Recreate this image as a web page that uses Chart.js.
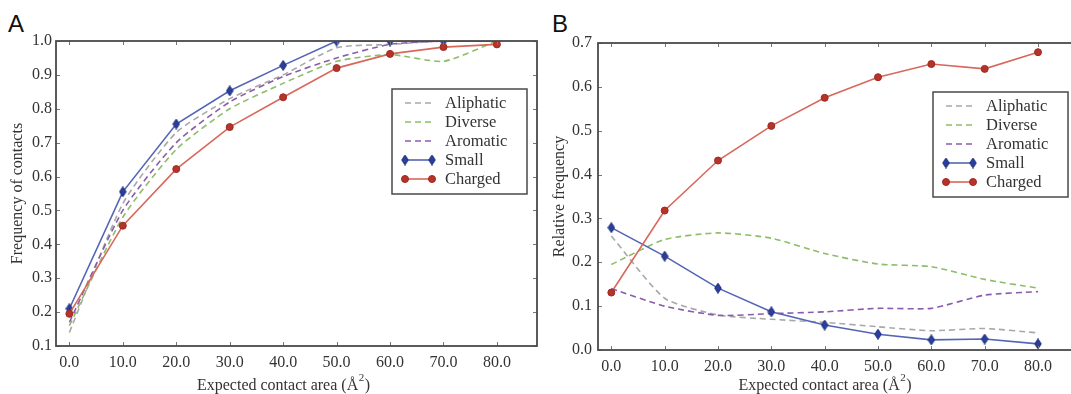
<!DOCTYPE html>
<html><head><meta charset="utf-8">
<script src="https://cdn.jsdelivr.net/npm/chart.js@4.4.1/dist/chart.umd.min.js"></script>
<style>
html,body{margin:0;padding:0;background:#fff;overflow:hidden;width:1071px;height:394px;position:relative;}
#ca{position:absolute;left:0;top:0;}
#cb{position:absolute;left:545px;top:0;}
.lab{position:absolute;font-family:"Liberation Sans",Arial,sans-serif;font-size:24px;line-height:24px;color:#111;}
</style></head><body>
<div class="lab" style="left:8px;top:12px">A</div>
<div class="lab" style="left:552px;top:12px">B</div>
<canvas id="ca" width="545" height="394"></canvas>
<canvas id="cb" width="541" height="394"></canvas>
<script>
// ---- data ----
const categories = [0, 10, 20, 30, 40, 50, 60, 70, 80];
const seriesNames = ["Aliphatic", "Diverse", "Aromatic", "Small", "Charged"];

const aliphaticA = [0.14, 0.52, 0.73, 0.83, 0.90, 0.98, 0.99, 1.0, 1.0];
const diverseA   = [0.16, 0.48, 0.68, 0.80, 0.875, 0.94, 0.96, 0.94, 1.0];
const aromaticA  = [0.17, 0.50, 0.70, 0.82, 0.895, 0.95, 0.99, 1.0, 1.0];
const smallA     = [0.21, 0.555, 0.755, 0.853, 0.928, 1.0, 1.0, 1.0, 1.0];
const chargedA   = [0.195, 0.455, 0.622, 0.746, 0.834, 0.92, 0.962, 0.982, 0.99];

const aliphaticB = [0.26, 0.118, 0.08, 0.07, 0.063, 0.053, 0.044, 0.049, 0.039];
const diverseB   = [0.195, 0.252, 0.267, 0.255, 0.22, 0.196, 0.19, 0.161, 0.141];
const aromaticB  = [0.14, 0.10, 0.079, 0.083, 0.087, 0.095, 0.095, 0.125, 0.133];
const smallB     = [0.279, 0.214, 0.141, 0.087, 0.057, 0.036, 0.023, 0.025, 0.014];
const chargedB   = [0.131, 0.318, 0.432, 0.511, 0.575, 0.622, 0.652, 0.641, 0.679];

const xTicks  = [0, 10, 20, 30, 40, 50, 60, 70, 80];
const yTicksA = [0.1, 0.2, 0.3, 0.4, 0.5, 0.6, 0.7, 0.8, 0.9, 1.0];
const yTicksB = [0.0, 0.1, 0.2, 0.3, 0.4, 0.5, 0.6, 0.7];

const yTitleA = "Frequency of contacts";
const yTitleB = "Relative frequency";
const xTitleMain = "Expected contact area (\u00C5";
const xTitleSup = "2";
const xTitleEnd = ")";

// ---- styles ----
const SERIF = '"Liberation Serif","Times New Roman",serif';
const INK = '#333333';

function thinDiamond(color, edge) {
  const c = document.createElement('canvas');
  c.width = 8; c.height = 11;
  const g = c.getContext('2d');
  g.beginPath();
  g.moveTo(4, 0.5); g.lineTo(7.3, 5.5); g.lineTo(4, 10.5); g.lineTo(0.7, 5.5); g.closePath();
  g.fillStyle = color; g.fill();
  g.strokeStyle = edge; g.lineWidth = 1; g.stroke();
  return c;
}
const diamondImg = thinDiamond('#2a3f9c', '#1c2c7a');

const styleDefs = [
  {color: '#a8a8a8', dash: [6, 4], marker: null},
  {color: '#8cbd68', dash: [6, 4], marker: null},
  {color: '#8a5cae', dash: [6, 4], marker: null},
  {color: '#5464b6', dash: [], marker: 'diamond', mfill: '#2a3f9c'},
  {color: '#d8675c', dash: [], marker: 'circle', mfill: '#b53329'}
];

function makeDatasets(arrays) {
  return arrays.map((vals, i) => {
    const s = styleDefs[i];
    return {
      label: seriesNames[i],
      data: categories.map((c, k) => ({x: c, y: vals[k]})),
      borderColor: s.color,
      backgroundColor: s.mfill || s.color,
      borderWidth: 1.6,
      borderDash: s.dash,
      tension: s.marker ? 0 : 0.2,
      pointRadius: s.marker ? 3.5 : 0,
      pointStyle: s.marker === 'diamond' ? diamondImg : 'circle',
      pointBorderColor: s.marker === 'circle' ? '#9e2a22' : s.mfill,
      pointBackgroundColor: s.mfill || s.color,
      pointBorderWidth: 1,
      order: 4 - i
    };
  });
}

const framePlugin = {
  id: 'framePlugin',
  afterDatasetsDraw(chart, args, opts) {
    const {ctx, chartArea: a, scales} = chart;
    const xs = scales.x, ys = scales.y;
    ctx.save();
    // inward ticks
    ctx.strokeStyle = '#777';
    ctx.lineWidth = 1;
    ctx.setLineDash([]);
    xs.ticks.forEach(t => {
      const px = Math.round(xs.getPixelForValue(t.value)) + 0.5;
      ctx.beginPath();
      ctx.moveTo(px, a.bottom); ctx.lineTo(px, a.bottom - 4);
      ctx.moveTo(px, a.top); ctx.lineTo(px, a.top + 4);
      ctx.stroke();
    });
    ys.ticks.forEach(t => {
      const py = Math.round(ys.getPixelForValue(t.value)) + 0.5;
      ctx.beginPath();
      ctx.moveTo(a.left, py); ctx.lineTo(a.left + 4, py);
      ctx.moveTo(a.right, py); ctx.lineTo(a.right - 4, py);
      ctx.stroke();
    });
    // spines
    ctx.strokeStyle = '#4a4a4a';
    ctx.lineWidth = 1.8;
    ctx.strokeRect(a.left, a.top, a.right - a.left, a.bottom - a.top);
    // x title with superscript
    ctx.fillStyle = INK;
    ctx.textBaseline = 'alphabetic';
    ctx.textAlign = 'left';
    const fMain = '16px ' + SERIF, fSup = '11px ' + SERIF;
    ctx.font = fMain;
    const w1 = ctx.measureText(xTitleMain).width;
    const w3 = ctx.measureText(xTitleEnd).width;
    ctx.font = fSup;
    const w2 = ctx.measureText(xTitleSup).width + 1;
    const total = w1 + w2 + w3;
    let tx = (a.left + a.right) / 2 + opts.xTitleShift - total / 2;
    const base = opts.xTitleY + 5;
    ctx.font = fMain; ctx.fillText(xTitleMain, tx, base);
    ctx.font = fSup; ctx.fillText(xTitleSup, tx + w1 + 0.5, base - 9);
    ctx.font = fMain; ctx.fillText(xTitleEnd, tx + w1 + w2, base);
    // legend
    const lw = 135, lh = 105;
    const lx = a.right - 10 - lw, ly = a.top + opts.legendTop;
    ctx.fillStyle = '#fff';
    ctx.fillRect(lx, ly, lw, lh);
    ctx.strokeStyle = '#4a4a4a';
    ctx.lineWidth = 1.5;
    ctx.strokeRect(lx, ly, lw, lh);
    chart.data.datasets.forEach((ds, i) => {
      const yy = ly + 14 + i * 19;
      const x0 = lx + 13, x1 = lx + 40;
      ctx.strokeStyle = ds.borderColor;
      ctx.lineWidth = 1.6;
      ctx.setLineDash(ds.borderDash || []);
      ctx.beginPath(); ctx.moveTo(x0, yy); ctx.lineTo(x1, yy); ctx.stroke();
      ctx.setLineDash([]);
      if (ds.pointRadius > 0) {
        [x0, x1].forEach(px => {
          if (ds.pointStyle === 'circle') {
            ctx.beginPath(); ctx.arc(px, yy, 3.5, 0, Math.PI * 2);
            ctx.fillStyle = ds.pointBackgroundColor; ctx.fill();
            ctx.strokeStyle = ds.pointBorderColor; ctx.lineWidth = 1; ctx.stroke();
          } else {
            ctx.drawImage(ds.pointStyle, px - 4, yy - 5.5);
          }
        });
      }
      ctx.fillStyle = INK;
      ctx.font = '16.5px ' + SERIF;
      ctx.textAlign = 'left';
      ctx.textBaseline = 'middle';
      ctx.fillText(ds.label, lx + 53, yy + 1);
    });
    ctx.restore();
  }
};

function makeChart(canvasId, arrays, yMin, yMax, yTicks, yTitle, cfg) {
  return new Chart(document.getElementById(canvasId), {
    type: 'line',
    data: {datasets: makeDatasets(arrays)},
    options: {
      responsive: false,
      animation: false,
      events: [],
      layout: {padding: {left: 0, top: cfg.top, right: cfg.right, bottom: 0}},
      plugins: {
        legend: {display: false},
        tooltip: {enabled: false},
        framePlugin: {xTitleShift: -13, xTitleY: cfg.xTitleY, legendTop: cfg.legendTop}
      },
      scales: {
        x: {
          type: 'linear', min: -2.5, max: 87.5,
          grid: {display: false, drawTicks: false},
          border: {display: false},
          afterBuildTicks: s => { s.ticks = xTicks.map(v => ({value: v})); },
          afterFit: s => { s.height = cfg.xH; },
          ticks: {
            padding: 7, color: INK, maxRotation: 0, autoSkip: false,
            font: {family: SERIF, size: 16},
            callback: v => Number(v).toFixed(1)
          }
        },
        y: {
          type: 'linear', min: yMin, max: yMax,
          grid: {display: false, drawTicks: false},
          border: {display: false},
          afterBuildTicks: s => { s.ticks = yTicks.map(v => ({value: v})); },
          afterFit: s => { s.width = cfg.yW; },
          ticks: {
            padding: cfg.yPad, color: INK, autoSkip: false,
            font: {family: SERIF, size: 16},
            callback: v => Number(v).toFixed(1)
          },
          title: {
            display: true, text: yTitle, color: INK,
            font: {family: SERIF, size: 16},
            padding: {top: cfg.yTitlePad, bottom: 0}
          }
        }
      }
    },
    plugins: [framePlugin]
  });
}

makeChart('ca', [aliphaticA, diverseA, aromaticA, smallA, chargedA], 0.1, 1.0, yTicksA, yTitleA,
  {top: 41, right: 8, xH: 48, yW: 56, yPad: 4, yTitlePad: 8, xTitleY: 385, legendTop: 48});
makeChart('cb', [aliphaticB, diverseB, aromaticB, smallB, chargedB], 0.0, 0.7, yTicksB, yTitleB,
  {top: 43, right: 8, xH: 44, yW: 53, yPad: 6, yTitlePad: 5, xTitleY: 385, legendTop: 49});
</script>
</body></html>
